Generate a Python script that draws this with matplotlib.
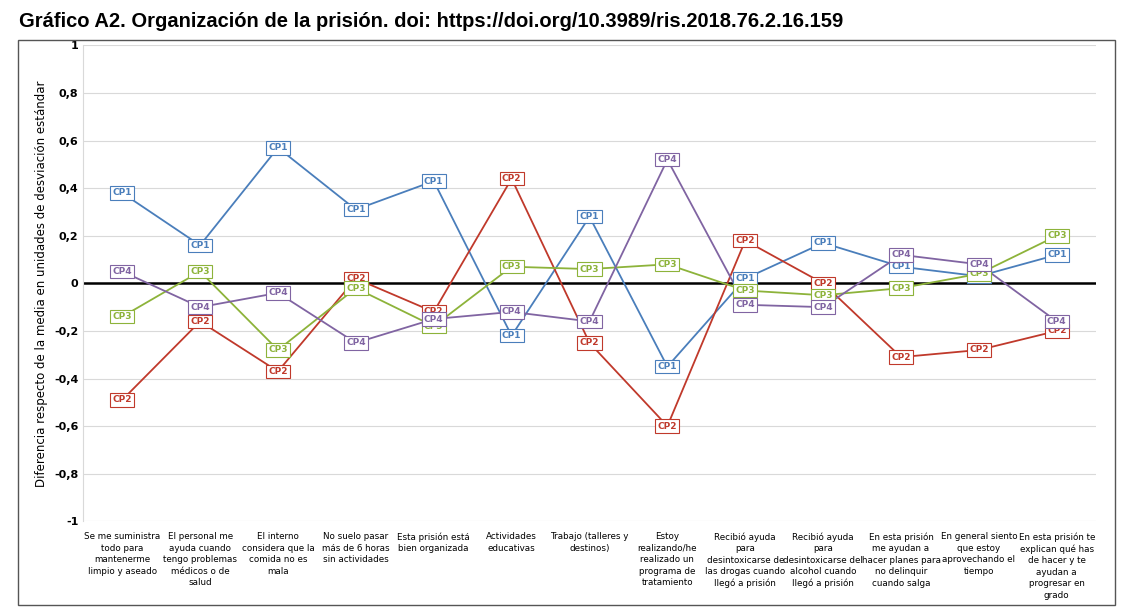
import matplotlib.pyplot as plt
from matplotlib.patches import Rectangle

categorias = [
    "Se me suministra\ntodo para\nmantenerme\nlimpio y aseado",
    "El personal me\nayuda cuando\ntengo problemas\nmédicos o de\nsalud",
    "El interno\nconsidera que la\ncomida no es\nmala",
    "No suelo pasar\nmás de 6 horas\nsin actividades",
    "Esta prisión está\nbien organizada",
    "Actividades\neducativas",
    "Trabajo (talleres y\ndestinos)",
    "Estoy\nrealizando/he\nrealizado un\nprograma de\ntratamiento",
    "Recibió ayuda\npara\ndesintoxicarse de\nlas drogas cuando\nllegó a prisión",
    "Recibió ayuda\npara\ndesintoxicarse del\nalcohol cuando\nllegó a prisión",
    "En esta prisión\nme ayudan a\nhacer planes para\nno delinquir\ncuando salga",
    "En general siento\nque estoy\naprovechando el\ntiempo",
    "En esta prisión te\nexplican qué has\nde hacer y te\nayudan a\nprogresar en\ngrado",
]
cp1 = [0.38, 0.16, 0.57, 0.31, 0.43, -0.22, 0.28, -0.35, 0.02, 0.17, 0.07, 0.03, 0.12]
cp2 = [-0.49, -0.16, -0.37, 0.02, -0.12, 0.44, -0.25, -0.60, 0.18, 0.00, -0.31, -0.28, -0.20]
cp3 = [-0.14, 0.05, -0.28, -0.02, -0.18, 0.07, 0.06, 0.08, -0.03, -0.05, -0.02, 0.04, 0.20]
cp4 = [0.05, -0.10, -0.04, -0.25, -0.15, -0.12, -0.16, 0.52, -0.09, -0.10, 0.12, 0.08, -0.16]

series = [("CP1", cp1, "#4a7ebb"), ("CP2", cp2, "#c0392b"),
          ("CP3", cp3, "#8db33a"), ("CP4", cp4, "#8064a2")]

fig = plt.figure(figsize=(11.25, 6.14), dpi=100)
fig.text(0.017, 0.965, "Gráfico A2. Organización de la prisión. doi: https://doi.org/10.3989/ris.2018.76.2.16.159",
         fontsize=14.5, fontweight="bold", va="center", family="Liberation Sans")
fig.patches.append(Rectangle((0.016, 0.015), 0.975, 0.92, transform=fig.transFigure,
                             fill=False, edgecolor="#555555", lw=1))

ax = fig.add_axes([0.074, 0.151, 0.9, 0.775])
x = list(range(len(categorias)))
for nombre, vals, color in series:
    ax.plot(x, vals, color=color, lw=1.3, zorder=3)
    for xi, v in zip(x, vals):
        ax.text(xi, v, nombre, color=color, fontsize=6.5, fontweight="bold",
                ha="center", va="center", zorder=4,
                bbox=dict(boxstyle="square,pad=0.25", fc="white", ec=color, lw=0.8))

ax.axhline(0, color="black", lw=1.8, zorder=2)
ax.set_xlim(-0.5, len(categorias) - 0.5)
ax.set_ylim(-1, 1)
yt = [-1, -0.8, -0.6, -0.4, -0.2, 0, 0.2, 0.4, 0.6, 0.8, 1]
ax.set_yticks(yt)
ax.set_yticklabels([("%g" % t).replace(".", ",") for t in yt], fontsize=8, fontweight="bold")
ax.yaxis.grid(True, color="#d9d9d9", lw=0.8)
ax.set_axisbelow(True)
ax.set_xticks(x)
ax.set_xticklabels(categorias, fontsize=6.3, va="top", linespacing=1.35)
ax.tick_params(axis="x", length=0, pad=8)
ax.tick_params(axis="y", length=0)
for s in ["top", "right", "bottom"]:
    ax.spines[s].set_visible(False)
ax.spines["left"].set_color("#d9d9d9")
ax.set_ylabel("Diferencia respecto de la media en unidades de desviación estándar", fontsize=8.5)

fig.savefig("out.png", dpi=100)
